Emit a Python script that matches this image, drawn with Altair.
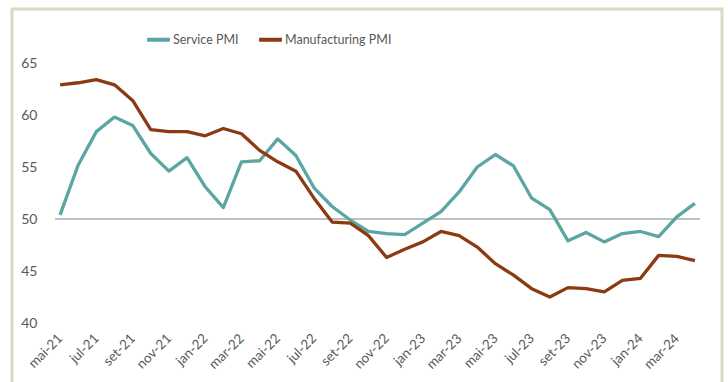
import altair as alt
import pandas as pd

# Monthly PMI readings, May 2021 to April 2024
months = [
    "mai-21", "jun-21", "jul-21", "ago-21", "set-21", "out-21", "nov-21", "dez-21",
    "jan-22", "fev-22", "mar-22", "abr-22", "mai-22", "jun-22", "jul-22", "ago-22",
    "set-22", "out-22", "nov-22", "dez-22", "jan-23", "fev-23", "mar-23", "abr-23",
    "mai-23", "jun-23", "jul-23", "ago-23", "set-23", "out-23", "nov-23", "dez-23",
    "jan-24", "fev-24", "mar-24", "abr-24",
]
service_pmi = [
    50.4, 55.2, 58.4, 59.8, 59.0, 56.3, 54.6, 55.9,
    53.1, 51.1, 55.5, 55.6, 57.7, 56.1, 53.0, 51.2,
    49.9, 48.8, 48.6, 48.5, 49.6, 50.7, 52.6, 55.0,
    56.2, 55.1, 52.0, 50.9, 47.9, 48.7, 47.8, 48.6,
    48.8, 48.3, 50.2, 51.5,
]
manufacturing_pmi = [
    62.9, 63.1, 63.4, 62.9, 61.4, 58.6, 58.4, 58.4,
    58.0, 58.7, 58.2, 56.6, 55.5, 54.6, 52.0, 49.7,
    49.6, 48.4, 46.3, 47.1, 47.8, 48.8, 48.4, 47.3,
    45.7, 44.6, 43.3, 42.5, 43.4, 43.3, 43.0, 44.1,
    44.3, 46.5, 46.4, 46.0,
]
series_names = ["Service PMI", "Manufacturing PMI"]
series_colors = ["#5ba6a2", "#8c3a12"]
y_ticks = [40, 45, 50, 55, 60, 65]

rows = []
for name, values in zip(series_names, [service_pmi, manufacturing_pmi]):
    for m, v in zip(months, values):
        rows.append({"mes": m, "serie": name, "valor": v})
df = pd.DataFrame(rows)

FONT = "Lato"
W, H = 645, 260

x_enc = alt.X(
    "mes:O",
    sort=months,
    scale=alt.Scale(type="point", padding=0.28),
    axis=alt.Axis(
        title=None,
        values=months[::2],
        labelAngle=315,
        labelAlign="right",
        labelBaseline="middle",
        labelPadding=13,
        labelFontSize=13.5,
        labelColor="#595959",
        labelFont=FONT,
        domain=False,
        ticks=False,
        grid=False,
    ),
)
y_enc = alt.Y(
    "valor:Q",
    scale=alt.Scale(domain=[40, 65], nice=False, zero=False),
    axis=alt.Axis(
        title=None,
        values=y_ticks,
        labelPadding=18,
        labelFontSize=14,
        labelColor="#595959",
        labelFont=FONT,
        domain=False,
        ticks=False,
        grid=False,
    ),
)

lines = alt.Chart(df).mark_line(strokeWidth=3.3, strokeJoin="round").encode(
    x=x_enc,
    y=y_enc,
    color=alt.Color(
        "serie:N",
        scale=alt.Scale(domain=series_names, range=series_colors),
        legend=alt.Legend(
            title=None,
            orient="none",
            legendX=90,
            legendY=-37,
            direction="horizontal",
            symbolType="stroke",
            symbolStrokeWidth=4,
            symbolSize=520,
            labelFontSize=12.5,
            labelFont=FONT,
            labelColor="#595959",
            labelOffset=1,
            columnPadding=12,
        ),
    ),
    detail="serie:N",
)

# Reference line at the 50 mark (expansion / contraction threshold)
threshold = alt.Chart(pd.DataFrame({"nivel": [50]})).mark_rule(
    color="#bfbfbf", strokeWidth=2
).encode(y=alt.Y("nivel:Q"))

# Outer frame around the figure
frame = alt.Chart(pd.DataFrame({"f": [0]})).mark_rect(
    fill=None, stroke="#dcd8c4", strokeWidth=3
).encode(
    x=alt.value(-43), x2=alt.value(667), y=alt.value(-54), y2=alt.value(340)
)

chart = alt.layer(frame, threshold, lines).properties(
    width=W,
    height=H,
    autosize=alt.AutoSizeParams(type="none"),
    padding={"left": 55, "top": 63, "right": 28, "bottom": 59},
    background="white",
).configure_view(stroke=None)

chart.save("out.html", embed_options={"renderer": "svg", "actions": False})
